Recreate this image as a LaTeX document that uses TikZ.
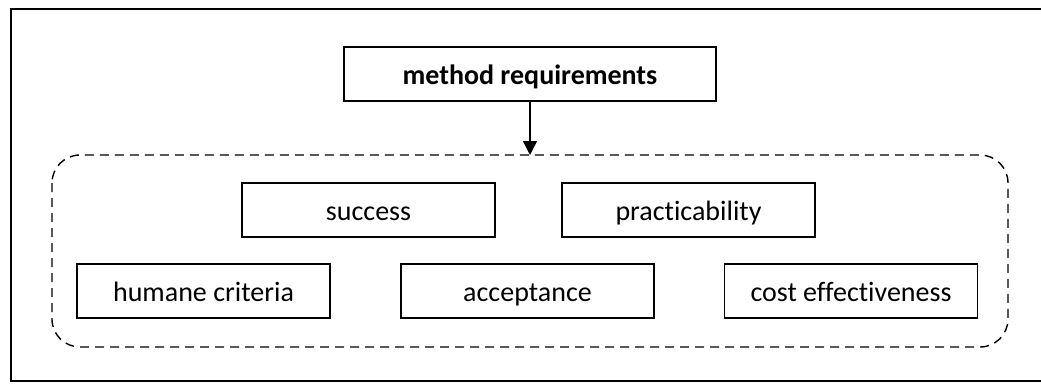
\documentclass[tikz,border=0pt]{standalone}
\usepackage{fontspec}
\setmainfont{Carlito}[Ligatures={NoCommon,NoContextual}]
\usetikzlibrary{arrows.meta}
\begin{document}
\begin{tikzpicture}[x=1pt,y=-1pt,
  item/.style={draw,line width=1.4pt,minimum width=253pt,minimum height=54pt,
    inner sep=0pt,text height=24pt,text depth=4pt,font=\fontsize{28}{30}\selectfont},
  title/.style={item,minimum width=372pt,font=\fontsize{28}{30}\selectfont\bfseries},
  group/.style={draw,line width=1.4pt,dash pattern=on 9pt off 6pt,rounded corners=28pt},
  link/.style={line width=1.4pt,-{Triangle[length=14pt,width=14pt]}}]
  \useasboundingbox (0,0) rectangle (1041,383);
  % outer frame (runs off the right edge)
  \draw[line width=2.2pt] (1060,9) -- (11,9) -- (11,381) -- (1060,381);
  % grouping frame
  \draw[group] (52,155) rectangle (1008,347);
  \coordinate (grouptop) at (530,155);
  % headline
  \node[title] (req) at (530,74) {method requirements};
  % requirement boxes
  \node[item] (success) at (368.5,210) {success};
  \node[item] (pract) at (688.5,210) {practicability};
  \node[item] (humane) at (203.5,291) {humane criteria};
  \node[item] (accept) at (527.5,291) {acceptance};
  \node[item] (cost) at (851,291) {cost effectiveness};
  \draw[link] (req.south) -- (grouptop);
\end{tikzpicture}
\end{document}
